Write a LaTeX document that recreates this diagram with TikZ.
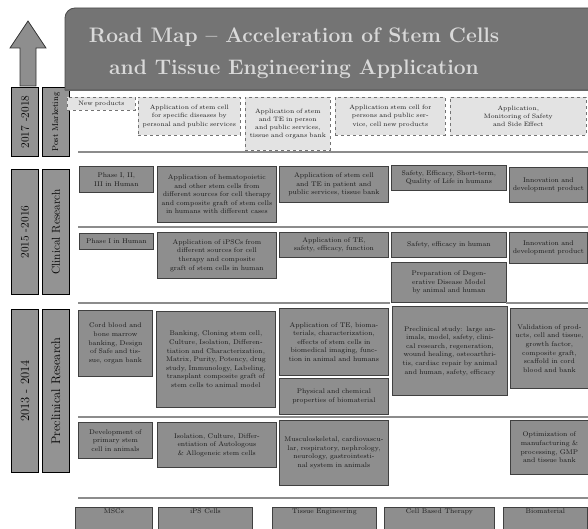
\documentclass[tikz,border=0pt]{standalone}
\usepackage{amsmath}
\usepackage{tikz}
\usepackage{xcolor}

\definecolor{bannergray}{HTML}{747474}
\definecolor{boxgray}{HTML}{8E8E8E}
\definecolor{yeargray}{HTML}{939393}
\definecolor{lightgray}{HTML}{E3E3E3}

\tikzset{
  darkbox/.style={draw=black!75,line width=0.8pt,fill=boxgray,anchor=north west,align=center,
    inner sep=1.5pt,text=black!90,font=\fontsize{6.8}{8.6}\selectfont},
  lightbox/.style={draw=black!55,dashed,line width=0.6pt,fill=lightgray,anchor=north west,align=center,
    inner sep=1.5pt,text=black!90,font=\fontsize{6.3}{8.2}\selectfont},
  yearbox/.style={draw=black,line width=0.8pt,fill=yeargray,rotate=90,minimum height=27pt,
    inner sep=0pt,font=\fontsize{11.5}{13}\selectfont},
  sepline/.style={black!45,line width=1.3pt},
  colA/.style={minimum width=74pt,text width=68pt},
  colB/.style={minimum width=119pt,text width=112pt},
  colC/.style={minimum width=109pt,text width=102pt},
  colD/.style={minimum width=115pt,text width=108pt},
  colE/.style={minimum width=78pt,text width=72pt}
}

\begin{document}
\begin{tikzpicture}[x=1pt,y=-1pt]
\clip (0,0) rectangle (588,529);
\fill[white] (0,0) rectangle (588,529);

% arrow and time axis
\draw[fill=boxgray,draw=black!80,line width=0.8pt] (28,21)--(46,48)--(36,48)--(36,86)--(20,86)--(20,48)--(10,48)--cycle;
\node[yearbox,minimum width=69pt] (y1) at (25,122) {2017 -2018};
\node[yearbox,minimum width=69pt,font=\fontsize{8.5}{10}\selectfont] (r1) at (56,122) {Post Marketing};
\node[yearbox,minimum width=125pt] (y2) at (25,232) {2015 -2016};
\node[yearbox,minimum width=125pt] (r2) at (56,232) {Clinical Research};
\node[yearbox,minimum width=163pt,font=\fontsize{12.5}{14}\selectfont] (y3) at (25,391) {2013 - 2014};
\node[yearbox,minimum width=163pt,font=\fontsize{12.5}{14}\selectfont] (r3) at (56,391) {Preclinical Research};

% banner
\fill[bannergray,draw=black!70,line width=0.8pt] (65,90)[rounded corners=10pt]--(65,8)[sharp corners]--(600,8)--(600,90)--cycle;
\node[align=center,text=black!15,font=\fontsize{21}{32}\selectfont\bfseries] (title) at (294,53)
  {Road Map -- Acceleration of Stem Cells\\and Tissue Engineering Application};
\draw[black!60,line width=2pt] (65,90)--(588,90);

% post marketing
\node[lightbox,minimum width=68pt,text width=62pt,minimum height=13pt] (p1) at (67,97) {New products};
\node[lightbox,minimum width=102pt,text width=96pt,minimum height=38pt] (p2) at (138,97)
  {Application of stem cell for specific diseases by personal and public services};
\node[lightbox,minimum width=85pt,text width=80pt,minimum height=53pt] (p3) at (245,97)
  {Application of stem and TE in person and public services, tissue and organs bank};
\node[lightbox,minimum width=110pt,text width=100pt,minimum height=38pt] (p4) at (335,97)
  {Application stem cell for persons and public service, cell new products};
\node[lightbox,minimum width=136pt,text width=78pt,minimum height=38pt] (p5) at (450,97)
  {Application,\\Monitoring of Safety\\and Side Effect};
\draw[sepline] (78,152)--(588,152);

% clinical research
\node[darkbox,colA,minimum height=26pt] (c1) at (79,166) {Phase I, II, III in Human};
\node[darkbox,colB,minimum height=56pt] (c2) at (157,166)
  {Application of hematopoietic and other stem cells from different sources for cell therapy and composite graft of stem cells in humans with different cases};
\node[darkbox,colC,minimum height=36pt] (c3) at (279,166)
  {Application of stem cell and TE in patient and public services, tissue bank};
\node[darkbox,colD,minimum height=25pt] (c4) at (391,165)
  {Safety, Efficacy, Short-term, Quality of Life in humans};
\node[darkbox,colE,minimum height=35pt] (c5) at (509,167) {Innovation and development product};
\draw[sepline] (78,227)--(588,227);

\node[darkbox,colA,minimum height=16pt] (d1) at (79,233) {Phase I in Human};
\node[darkbox,colB,minimum height=46pt] (d2) at (157,232)
  {Application of iPSCs from different sources for cell therapy and composite graft of stem cells in human};
\node[darkbox,colC,minimum height=25pt] (d3) at (279,232) {Application of TE, safety, efficacy, function};
\node[darkbox,colD,minimum height=25pt] (d4) at (391,232) {Safety, efficacy in human};
\node[darkbox,colE,minimum height=31pt] (d5) at (509,232) {Innovation and development product};
\node[darkbox,colD,minimum height=40pt] (d6) at (391,262)
  {Preparation of Degenerative Disease Model by animal and human};
\draw[sepline] (78,303)--(390,303) (506,303)--(588,303);

% preclinical research
\node[darkbox,colA,minimum height=66pt] (e1) at (78,310)
  {Cord blood and bone marrow banking, Design of Safe and tissue, organ bank};
\node[darkbox,colB,minimum height=96pt] (e2) at (156,311)
  {Banking, Cloning stem cell, Culture, Isolation, Differentiation and Characterization, Matrix, Purity, Potency, drug study, Immunology, Labeling, transplant composite graft of stem cells to animal model};
\node[darkbox,colC,minimum height=67pt] (e3) at (279,308)
  {Application of TE, biomaterials, characterization, effects of stem cells in biomedical imaging, function in animal and humans};
\node[darkbox,colC,minimum height=36pt] (e4) at (279,378) {Physical and chemical properties of biomaterial};
\node[darkbox,colD,minimum height=89pt] (e5) at (392,306)
  {Preclinical study: large animals, model, safety, clinical research, regeneration, wound healing, osteoarthritis, cardiac repair by animal and human, safety, efficacy};
\node[darkbox,colE,minimum height=80pt] (e6) at (510,308)
  {Validation of products, cell and tissue, growth factor, composite graft, scaffold in cord blood and bank};
\draw[sepline] (78,417)--(588,417);

\node[darkbox,colA,minimum height=36pt] (f1) at (78,422) {Development of primary stem cell in animals};
\node[darkbox,colB,minimum height=45pt] (f2) at (157,422)
  {Isolation, Culture, Differentiation of Autologous \& Allogeneic stem cells};
\node[darkbox,colC,minimum height=65pt] (f3) at (279,420)
  {Musculoskeletal, cardiovascular, respiratory, nephrology, neurology, gastrointestinal system in animals};
\node[darkbox,colE,minimum height=54pt] (f4) at (510,420)
  {Optimization of manufacturing \& processing, GMP and tissue bank};
\draw[sepline] (78,498)--(588,498);

% fields
\foreach \x/\w/\n/\t in {75/77/g1/MSCs,158/94/g2/iPS Cells,272/104/g3/Tissue Engineering,384/110/g4/Cell Based Therapy,503/84/g5/Biomaterial}
  \node[darkbox,minimum width=\w pt,text height=5pt,text depth=17pt] (\n) at (\x,507) {\t};
\end{tikzpicture}
\end{document}
